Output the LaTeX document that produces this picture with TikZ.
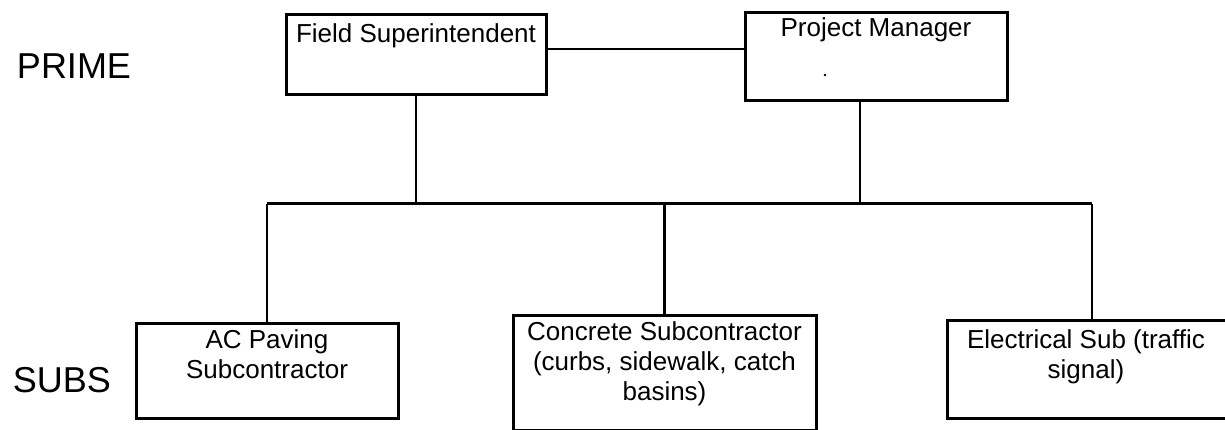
\documentclass[tikz,border=0pt]{standalone}
\usepackage{fontspec}
\setmainfont{Liberation Sans}
\usetikzlibrary{calc}
\begin{document}
\begin{tikzpicture}[x=1pt,y=-1pt,
  box/.style={draw, line width=3pt, rectangle, anchor=north west,
    inner sep=0pt, outer sep=0pt},
  lbl/.style={font=\fontsize{26}{30}\selectfont, inner sep=0pt, align=center},
  tier/.style={font=\fontsize{36}{40}\selectfont, inner sep=0pt},
  conn/.style={line width=2.2pt, line join=miter},
  busline/.style={line width=3pt, line join=miter}]
\clip (0,0) rectangle (1225,430);
\fill[white] (0,0) rectangle (1225,430);

% tier captions
\node[tier] (prime) at (74,66) {PRIME};
\node[tier] (subs) at (62,380) {SUBS};

% prime contractor boxes
\node[box, minimum width=260pt, minimum height=80pt] (fs) at (286,15) {};
\node[box, minimum width=262pt, minimum height=88pt] (pm) at (745,13) {};
\node[lbl, anchor=base] (fstxt) at ($(fs.north)+(0,28)$) {Field Superintendent};
\node[lbl, anchor=base] (pmtxt) at ($(pm.north)+(0,24)$) {Project Manager};
\fill (825,75) circle (1.4pt);

% subcontractor boxes
\node[box, minimum width=262pt, minimum height=95pt] (ac) at (136,323) {};
\node[box, minimum width=303pt, minimum height=115pt] (cc) at (513,315) {};
\node[box, minimum width=290pt, minimum height=98pt] (el) at (947,320) {};
\node[lbl, anchor=north] (actxt) at ($(ac.north)+(0,6)$) {AC Paving\\Subcontractor};
\node[lbl, anchor=north] (cctxt) at ($(cc.north)+(0,6)$) {Concrete Subcontractor\\(curbs, sidewalk, catch\\basins)};
\node[lbl, anchor=north] (eltxt) at ($(el.north)+(-6,9)$) {Electrical Sub (traffic\\signal)};

% connectors
\coordinate (link) at (0,49);
\coordinate (bus) at (0,204);
\coordinate (pmdrop) at ($(pm.south west)+(115,0)$);
\draw[conn] (fs.east |- link) -- (pm.west |- link);
\draw[conn] (fs.south) -- (fs.south |- bus);
\draw[conn] (pmdrop) -- (pmdrop |- bus);
\draw[busline] (ac.north |- bus) -- (el.north |- bus);
\draw[conn] (ac.north |- bus) -- (ac.north);
\draw[conn] (cc.north |- bus) -- (cc.north);
\draw[conn] (el.north |- bus) -- (el.north);
\end{tikzpicture}
\end{document}
